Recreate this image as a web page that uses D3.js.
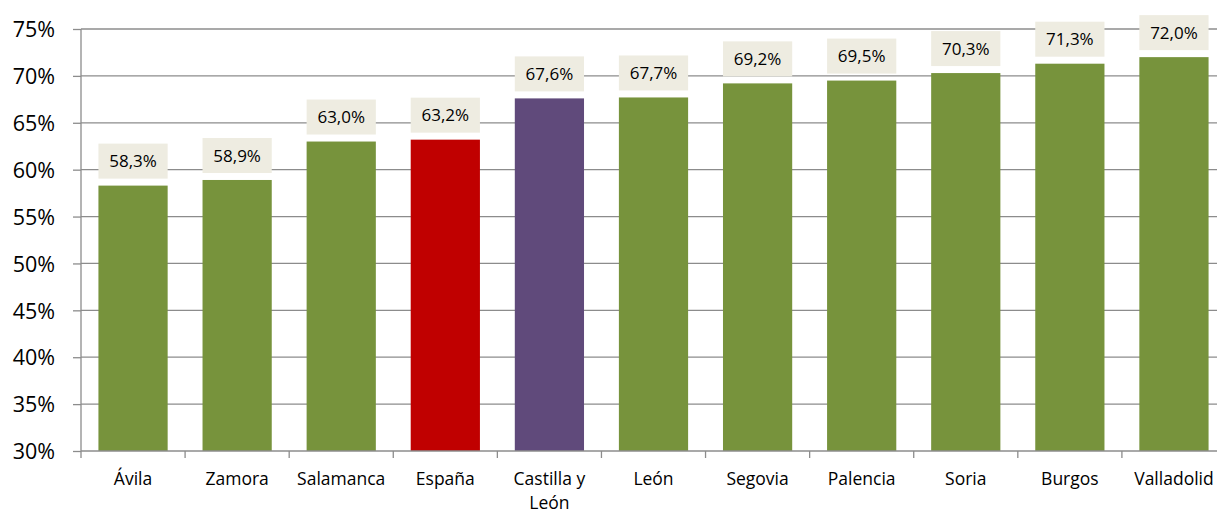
<!DOCTYPE html>
<html><head><meta charset="utf-8">
<script src="https://cdnjs.cloudflare.com/ajax/libs/d3/7.8.5/d3.min.js"></script>
<style>body{margin:0;background:#fff;overflow:hidden}svg{display:block}</style>
</head><body>
<script>
const categories = ["Ávila","Zamora","Salamanca","España","Castilla y León","León","Segovia","Palencia","Soria","Burgos","Valladolid"];
const values = [58.3,58.9,63.0,63.2,67.6,67.7,69.2,69.5,70.3,71.3,72.0];
const colors = ["#77933C","#77933C","#77933C","#C00000","#604A7B","#77933C","#77933C","#77933C","#77933C","#77933C","#77933C"];
const yTicks = [30,35,40,45,50,55,60,65,70,75];

(function () {
const W = 1217, H = 514;
const mLeft = 81, mRight = 1226, mTop = 29, mBottom = 451;
const svg = d3.select("body").append("svg").attr("width", W).attr("height", H);
const font = "'Open Sans', sans-serif";

const x = d3.scaleBand().domain(categories).range([mLeft, mRight]).paddingInner(0.335).paddingOuter(0.1675);
const y = d3.scaleLinear().domain([30, 75]).range([mBottom, mTop]);

// gridlines
svg.append("g").selectAll("line").data(yTicks.filter(t => t > 30)).join("line")
  .attr("x1", mLeft).attr("x2", mRight).attr("y1", d => y(d)).attr("y2", d => y(d))
  .attr("stroke", "#8c8c8c").attr("stroke-width", 1.3);

// bars
svg.append("g").selectAll("rect").data(values).join("rect")
  .attr("x", (d, i) => x(categories[i])).attr("width", x.bandwidth())
  .attr("y", d => y(d)).attr("height", d => y(30) - y(d))
  .attr("fill", (d, i) => colors[i]);

// y axis
const yAxis = d3.axisLeft(y).tickValues(yTicks).tickSize(8).tickFormat(d => d + "%");
const gy = svg.append("g").attr("transform", `translate(${mLeft},0)`).call(yAxis);
gy.select(".domain").attr("stroke", "#8c8c8c").attr("stroke-width", 1.3).attr("d", `M0,${mTop}V${mBottom}`);
gy.selectAll(".tick line").attr("stroke", "#8c8c8c").attr("stroke-width", 1.3);
gy.selectAll(".tick text").attr("x", -26).attr("dy", "0.36em").style("font-family", font).style("font-size", "21.5px").attr("fill", "#000");

// x axis
const bounds = d3.range(categories.length + 1).map(i => mLeft + i * (mRight - mLeft) / categories.length);
svg.append("line").attr("x1", mLeft).attr("x2", mRight).attr("y1", mBottom).attr("y2", mBottom).attr("stroke", "#8c8c8c").attr("stroke-width", 1.3);
svg.append("g").selectAll("line").data(bounds).join("line")
  .attr("x1", d => d).attr("x2", d => d).attr("y1", mBottom).attr("y2", mBottom + 7)
  .attr("stroke", "#8c8c8c").attr("stroke-width", 1.3);

const gx = svg.append("g");
categories.forEach((c, i) => {
  const cx = x(c) + x.bandwidth() / 2;
  const lines = c === "Castilla y León" ? ["Castilla y", "León"] : [c];
  const t = gx.append("text").attr("x", cx).attr("y", 485).attr("text-anchor", "middle")
    .style("font-family", font).style("font-size", "17.5px").attr("fill", "#000");
  lines.forEach((l, k) => t.append("tspan").attr("x", cx).attr("dy", k ? 24 : 0).text(l));
});

// data labels
const lg = svg.append("g");
values.forEach((v, i) => {
  const bx = x(categories[i]);
  const bw = x.bandwidth();
  const by = y(v) - 7 - 35;
  lg.append("rect").attr("x", bx).attr("y", by).attr("width", bw).attr("height", 35).attr("fill", "#EEECE1");
  lg.append("text").attr("x", bx + bw / 2).attr("y", by + 17.5).attr("dy", "0.36em").attr("text-anchor", "middle")
    .style("font-family", font).style("font-size", "17px").attr("fill", "#000")
    .text(v.toFixed(1).replace(".", ",") + "%");
});
})();
</script>
</body></html>
